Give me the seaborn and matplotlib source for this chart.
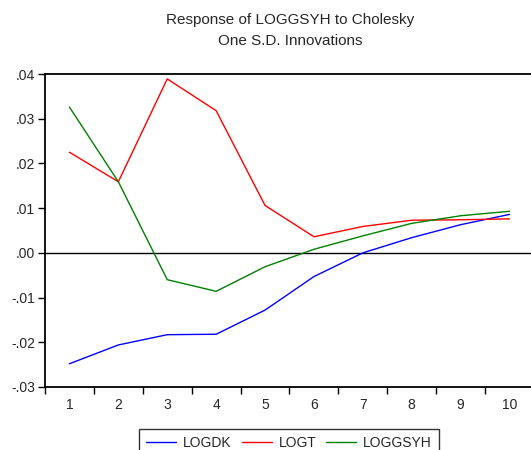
import matplotlib
matplotlib.use("Agg")
import matplotlib.pyplot as plt
import matplotlib.ticker as mticker
import seaborn as sns
import pandas as pd
import numpy as np

periods = [1, 2, 3, 4, 5, 6, 7, 8, 9, 10]
logdk = [-0.0248, -0.0206, -0.0183, -0.0182, -0.0128, -0.0053, 0.0000, 0.0034, 0.0063, 0.0086]
logt = [0.0225, 0.0159, 0.0389, 0.0318, 0.0106, 0.0036, 0.0059, 0.0073, 0.0074, 0.0076]
loggsyh = [0.0326, 0.0159, -0.0060, -0.0086, -0.0031, 0.0008, 0.0038, 0.0066, 0.0083, 0.0093]
series_names = ["LOGDK", "LOGT", "LOGGSYH"]
colors = ["#0000FF", "#FF0000", "#008000"]
title = "Response of LOGGSYH to Cholesky\nOne S.D. Innovations"

df = pd.DataFrame({
    "period": periods * 3,
    "value": logdk + logt + loggsyh,
    "series": sum([[n] * len(periods) for n in series_names], []),
})

sns.set_style("white")
plt.rcParams["font.family"] = ["Liberation Sans", "DejaVu Sans"]

fig = plt.figure(figsize=(5.31, 4.5), dpi=100)
ax = fig.add_axes([45 / 531, (450 - 387) / 450, (534 - 45) / 531, (387 - 74) / 450])

sns.lineplot(data=df, x="period", y="value", hue="series", hue_order=series_names,
             palette=colors, linewidth=1.0, ax=ax, legend=True)
ax.axhline(0, color="black", linewidth=1.0, zorder=1)

ax.set_xlim(0.5, 10.5)
ax.set_ylim(-0.03, 0.04)
ax.set_xlabel("")
ax.set_ylabel("")

ax.xaxis.set_major_locator(mticker.FixedLocator(periods))
ax.xaxis.set_minor_locator(mticker.FixedLocator([p + 0.5 for p in [0] + periods]))
ax.tick_params(axis="x", which="major", length=0, pad=8, labelsize=10)
ax.tick_params(axis="x", which="minor", length=5, width=1, direction="out", bottom=True, color="black")
ax.set_yticks(np.arange(-0.03, 0.0401, 0.01))
ax.yaxis.set_major_formatter(mticker.FuncFormatter(
    lambda v, p: ("-" if v < -1e-9 else "") + ("%.2f" % abs(v)).lstrip("0")))
ax.tick_params(axis="y", which="major", length=5, width=1, direction="out", left=True,
               color="black", labelsize=10, pad=2)

for s in ["left", "top", "bottom"]:
    ax.spines[s].set_visible(True)
    ax.spines[s].set_color("black")
    ax.spines[s].set_linewidth(1.3)
ax.spines["right"].set_visible(False)

fig.text(290 / 531, 1 - 20 / 450, "Response of LOGGSYH to Cholesky", ha="center", va="center", fontsize=11)
fig.text(290 / 531, 1 - 41 / 450, "One S.D. Innovations", ha="center", va="center", fontsize=11)

handles, labels = ax.get_legend_handles_labels()
ax.get_legend().remove()
leg = fig.legend(handles, labels, loc="upper center", bbox_to_anchor=(289 / 531, (450 - 429) / 450),
                 ncol=3, frameon=True, fancybox=False, edgecolor="black", fontsize=10,
                 handlelength=2.16, columnspacing=0.72, borderpad=0.5, handletextpad=0.5,
                 borderaxespad=0)
leg.get_frame().set_linewidth(1.0)

fig.savefig("out.png", dpi=100)
